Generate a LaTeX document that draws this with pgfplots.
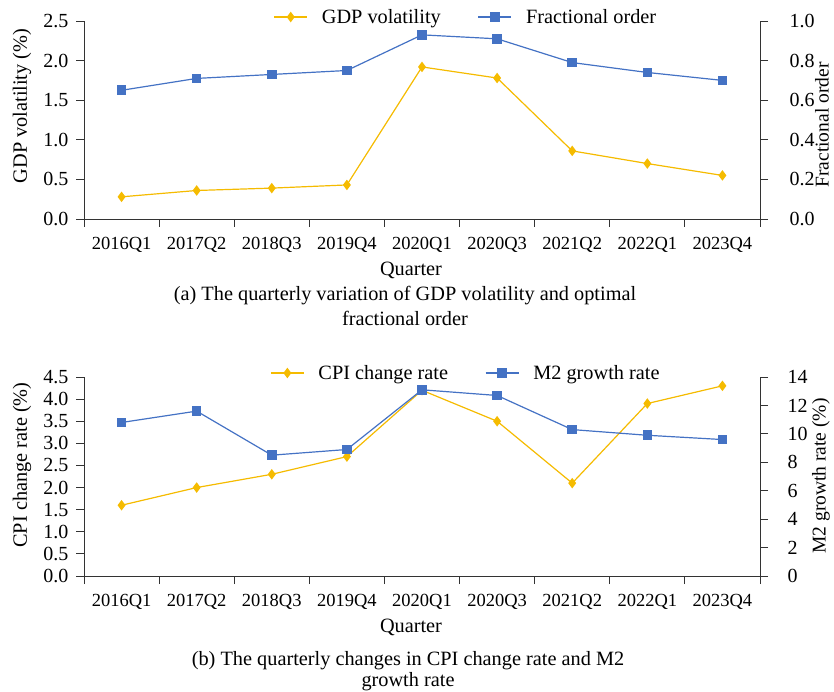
\documentclass[border=0pt]{standalone}
\usepackage{fontspec}
\setmainfont{Liberation Serif}
\usepackage{pgfplots}
\pgfplotsset{compat=1.18}
\definecolor{cy}{RGB}{245,187,0}
\definecolor{cb}{RGB}{68,114,196}
\newcommand{\fs}{\fontsize{18.5}{22}\selectfont}
\newcommand{\fl}{\fontsize{20.3}{24}\selectfont}
\newcommand{\fr}{\fontsize{19.5}{23}\selectfont}
\newcommand{\fy}{\fontsize{20}{24}\selectfont}
\pgfplotsset{
  base/.style={
    scale only axis, width=676pt, xmin=0, xmax=9,
    tick align=outside, major tick length=8pt,
    axis line style={black!80, line width=0.9pt},
    every tick/.style={black!80, line width=0.9pt},
    xticklabel style={font=\fs},
    yticklabel style={font=\fy},
    /pgf/number format/assume math mode=true,
    /pgf/number format/.cd, fixed, fixed zerofill, precision=1, /pgfplots/.cd,
    legend style={font=\fl, draw=none, fill=none, legend columns=2, anchor=center,
      /tikz/every even column/.append style={column sep=35pt},
      /tikz/every odd column/.append style={column sep=12pt},
      legend cell align=left},
    legend image code/.code={\draw[mark repeat=2,mark phase=2] plot coordinates {(0pt,0pt)(16.5pt,0pt)(33pt,0pt)};},
    clip=false,
  },
  leftax/.style={base, axis y line*=left, axis x line*=bottom,
    xtick={0,...,9}, xticklabels={},
    extra x ticks={0.5,1.5,...,8.5},
    extra x tick labels={2016Q1,2017Q2,2018Q3,2019Q4,2020Q1,2020Q3,2021Q2,2022Q1,2023Q4},
    extra x tick style={major tick length=0pt, xticklabel style={yshift=-15pt}},
    yticklabel style={xshift=-4pt}},
  rightax/.style={base, axis y line*=right, axis x line=none,
    yticklabel style={xshift=18pt}},
  ys/.style={color=cy, line width=1.2pt, mark=diamond*, mark size=4.3pt, mark options={solid, fill=cy}},
  bs/.style={color=cb, line width=1.2pt, mark=square*, mark size=4.2pt, mark options={solid, fill=cb}},
}
\begin{document}
\begin{tikzpicture}[x=1pt,y=1pt]
\useasboundingbox (0,0) rectangle (834,691);
% ---------- panel (a)
\begin{axis}[leftax, at={(84pt,472pt)}, anchor=south west, height=198pt,
  ymin=0, ymax=2.5, ytick={0,0.5,...,2.5}]
\addplot[ys] coordinates {(0.5,0.28)(1.5,0.36)(2.5,0.39)(3.5,0.43)(4.5,1.92)(5.5,1.78)(6.5,0.86)(7.5,0.70)(8.5,0.55)};
\end{axis}
\begin{axis}[rightax, at={(84pt,472pt)}, anchor=south west, height=198pt,
  ymin=0, ymax=1.0, ytick={0,0.2,...,1.0},
  legend style={at={(0.565,1.02)}}]
\addlegendimage{ys}
\addlegendentry{GDP volatility}
\addplot[bs] coordinates {(0.5,0.65)(1.5,0.71)(2.5,0.73)(3.5,0.75)(4.5,0.93)(5.5,0.91)(6.5,0.79)(7.5,0.74)(8.5,0.70)};
\addlegendentry{Fractional order}
\end{axis}
% ---------- panel (b)
\begin{axis}[leftax, at={(84pt,115pt)}, anchor=south west, height=199pt,
  ymin=0, ymax=4.5, ytick={0,0.5,...,4.5}]
\addplot[ys] coordinates {(0.5,1.6)(1.5,2.0)(2.5,2.3)(3.5,2.7)(4.5,4.2)(5.5,3.5)(6.5,2.1)(7.5,3.9)(8.5,4.3)};
\end{axis}
\begin{axis}[rightax, at={(84pt,115pt)}, anchor=south west, height=199pt,
  ymin=0, ymax=14, ytick={0,2,...,14},
  yticklabel={\pgfmathprintnumber[fixed,precision=0]{\tick}},
  yticklabel style={xshift=-2pt},
  legend style={at={(0.565,1.02)}}]
\addlegendimage{ys}
\addlegendentry{CPI change rate}
\addplot[bs] coordinates {(0.5,10.8)(1.5,11.6)(2.5,8.5)(3.5,8.9)(4.5,13.1)(5.5,12.7)(6.5,10.3)(7.5,9.9)(8.5,9.6)};
\addlegendentry{M2 growth rate}
\end{axis}
% ---------- labels
\node[rotate=90, font=\fl, inner sep=0pt] at (22,585) {GDP volatility (\%)};
\node[rotate=90, font=\fr, inner sep=0pt] at (822,566) {Fractional order};
\node[font=\fl] at (411,421) {Quarter};
\node[font=\fl] at (405,395) {(a) The quarterly variation of GDP volatility and optimal};
\node[font=\fl] at (405,373) {fractional order};
\node[rotate=90, font=\fl, inner sep=0pt] at (22,226) {CPI change rate (\%)};
\node[rotate=90, font=\fr, inner sep=0pt] at (821,215) {M2 growth rate (\%)};
\node[font=\fl] at (411,64) {Quarter};
\node[font=\fl] at (408,30) {(b) The quarterly changes in CPI change rate and M2};
\node[font=\fl] at (408,9) {growth rate};
\end{tikzpicture}
\end{document}
